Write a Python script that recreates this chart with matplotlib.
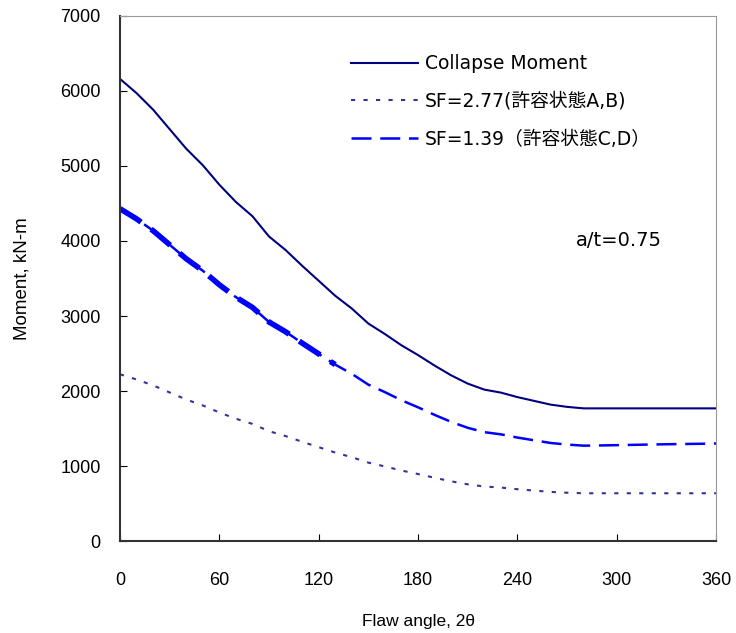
import matplotlib
matplotlib.use('Agg')
import matplotlib.pyplot as plt

plt.rcParams['font.family'] = ['Liberation Sans', 'Noto Sans CJK JP', 'DejaVu Sans']

# 欠陥角度 2θ (deg)
angle = [0, 10, 20, 30, 40, 50, 60, 70, 80, 90, 100, 110, 120, 130, 140, 150, 160, 170, 180,
         190, 200, 210, 220, 230, 240, 250, 260, 270, 280, 290, 300, 310, 320, 330, 340, 350, 360]

collapse = [6160, 5970, 5750, 5490, 5230, 5010, 4750, 4520, 4330, 4060, 3880, 3670, 3470, 3270,
            3100, 2900, 2760, 2610, 2480, 2340, 2210, 2100, 2020, 1980, 1920, 1870, 1820, 1790,
            1770, 1770, 1770, 1770, 1770, 1770, 1770, 1770, 1770]

sf_139 = [4430, 4295, 4137, 3950, 3763, 3604, 3417, 3252, 3115, 2921, 2791, 2640, 2496, 2353,
          2230, 2086, 1986, 1878, 1784, 1683, 1590, 1511, 1453, 1424, 1381, 1345, 1309, 1288,
          1273, 1276, 1280, 1284, 1288, 1292, 1295, 1298, 1302]

sf_277 = [2224, 2155, 2076, 1982, 1888, 1809, 1715, 1632, 1563, 1466, 1401, 1325, 1253, 1181,
          1119, 1047, 996, 942, 895, 845, 798, 758, 729, 715, 693, 675, 657, 646, 639, 639,
          639, 639, 639, 639, 639, 639, 639]

wide = ['DejaVu Sans', 'Noto Sans CJK JP']

fig = plt.figure(figsize=(7.36, 6.33), dpi=100)
ax = fig.add_axes([0.163, 0.145, 0.81, 0.83])

ax.plot(angle, collapse, color='#000080', lw=1.5, label='Collapse Moment')
ax.plot(angle, sf_277, color='#333399', lw=1.5, ls=(0, (2, 4)), label='SF=2.77(許容状態A,B)')
ax.plot(angle, sf_139, color='#0000FF', lw=1.8, ls=(0, (8, 3.5)), label='SF=1.39（許容状態C,D）')
# 左側は太線が重なっている
ax.plot(angle[:14], sf_139[:14], color='#0000FF', lw=4, ls=(0, (4.5, 2.2)))

ax.set_xlim(0, 360)
ax.set_ylim(0, 7000)
ax.set_xticks(range(0, 361, 60))
ax.set_yticks(range(0, 7001, 1000))
ax.tick_params(direction='in', length=5, labelsize=13)
ax.tick_params(axis='y', pad=14)
ax.tick_params(axis='x', pad=22)
for s in ax.spines.values():
    s.set_color('#333333')
ax.spines['right'].set_color('#999999')
ax.spines['top'].set_color('#999999')
ax.spines['left'].set_linewidth(1.5)
ax.spines['bottom'].set_linewidth(1.5)

ax.set_xlabel('Flaw angle, 2θ', fontsize=12.5, labelpad=18)
ax.set_ylabel('Moment, kN-m', fontsize=13.5, labelpad=21)

ax.text(0.765, 0.573, 'a/t=0.75', transform=ax.transAxes, fontsize=14, va='center',
        family=wide)

ax.legend(loc='upper left', bbox_to_anchor=(0.371, 0.945), frameon=False,
          prop={'family': wide, 'size': 13.5},
          handlelength=3.6, labelspacing=1.0, handletextpad=0.37, borderpad=0)

fig.savefig('out.png', dpi=100)
